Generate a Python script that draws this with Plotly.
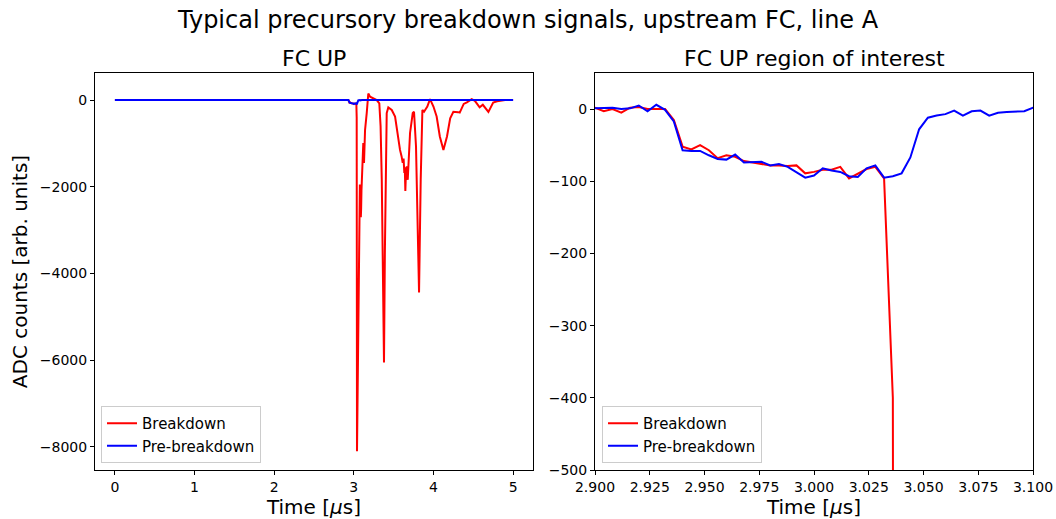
import plotly.graph_objects as go

# ---- quiet baseline before the event (both channels sit at ~0) ----
t_pre = [0.0, 0.25, 0.5, 0.75, 1.0, 1.25, 1.5, 1.75, 2.0, 2.25, 2.5, 2.75, 2.85, 2.896]
breakdown_pre = [0, 1, -1, 2, 0, -1, 1, 0, 2, -1, 0, 1, 0, 1]
prebreak_pre = [1, 0, 1, -1, 1, 0, 0, 1, -1, 2, 1, 0, 2, 1]

# ---- region of interest, 4 ns sampling ----
t_roi = [2.900, 2.904, 2.908, 2.912, 2.916, 2.920, 2.924, 2.928, 2.932, 2.936,
         2.940, 2.944, 2.948, 2.952, 2.956, 2.960, 2.964, 2.968, 2.972, 2.976,
         2.980, 2.984, 2.988, 2.992, 2.996, 3.000, 3.004, 3.008, 3.012, 3.016,
         3.020, 3.024, 3.028, 3.032, 3.036, 3.040, 3.044, 3.048, 3.052, 3.056,
         3.060, 3.064, 3.068, 3.072, 3.076, 3.080, 3.084, 3.088, 3.092, 3.096,
         3.100]
breakdown_roi = [2, -3, 0, -5, 2, 3, 0, 0, 0, -15,
                 -52, -56, -50, -57, -68, -64, -66, -72, -74, -76,
                 -78, -78, -79, -78, -89, -87, -84, -84, -80, -96,
                 -90, -83, -80, -96, -400, -8100, -7400, -6000, -5200, -4400,
                 -3700, -3000, -2600, -2200, -1950, -2000, -2400, -2700, -2500, -2100,
                 -1850]
prebreak_roi = [1, 1, 2, 0, 1, 5, -3, 6, -1, -17,
                -57, -58, -58, -64, -69, -70, -63, -74, -74, -73,
                -78, -76, -80, -87, -95, -92, -82, -85, -87, -93,
                -94, -82, -78, -95, -93, -89, -67, -28, -12, -9,
                -7, -2, -9, -3, -2, -9, -5, -4, -4, -3,
                2]

# ---- after the region of interest ----
t_post_bd = [3.110, 3.119, 3.128, 3.141, 3.162, 3.182, 3.204, 3.250, 3.288, 3.320,
             3.336, 3.351, 3.366, 3.379, 3.390, 3.401, 3.413, 3.433, 3.476, 3.518,
             3.546, 3.580, 3.600, 3.614, 3.625, 3.634, 3.640, 3.647, 3.655, 3.665,
             3.677, 3.690, 3.706, 3.740, 3.756, 3.781, 3.803, 3.819, 3.840, 3.861,
             3.882, 3.923, 3.957, 4.000, 4.040, 4.080, 4.125, 4.170, 4.210, 4.250,
             4.310, 4.330, 4.380, 4.420, 4.480, 4.520, 4.580, 4.620, 4.690, 4.750,
             4.800, 4.850, 4.900, 5.000]
breakdown_post = [-1700, -990, -1450, -690, -300, 150, 75, 30, 0, -75,
                  -600, -1840, -4000, -6050, -3500, -1070, -300, -170, -230, -380,
                  -760, -1150, -1300, -1450, -1350, -1680, -1550, -2100, -1650, -1530,
                  -1840, -1300, -760, -300, -270, -1070, -2990, -4440, -1840, -230,
                  -270, -150, 20, -150, -380, -840, -1150, -840, -420, -270,
                  -280, -290, -90, -55, 20, -20, -170, -110, -275, -60,
                  -30, -10, 0, 0]
t_post_pb = [3.2, 3.4, 3.6, 3.8, 4.0, 4.2, 4.4, 4.6, 4.8, 5.0]
prebreak_post = [1, -1, 0, 2, 1, 0, -1, 1, 0, 1]

t_breakdown = t_pre + t_roi + t_post_bd
v_breakdown = breakdown_pre + breakdown_roi + breakdown_post
t_prebreak = t_pre + t_roi + t_post_pb
v_prebreak = prebreak_pre + prebreak_roi + prebreak_post

RED = "#ff0000"
BLUE = "#0000ff"
FONT = "DejaVu Sans"

fig = go.Figure()
for xa, ya, leg in (("x", "y", "legend"), ("x2", "y2", "legend2")):
    fig.add_trace(go.Scatter(x=t_breakdown, y=v_breakdown, mode="lines", name="Breakdown",
                             line=dict(color=RED, width=2), xaxis=xa, yaxis=ya, legend=leg))
    fig.add_trace(go.Scatter(x=t_prebreak, y=v_prebreak, mode="lines", name="Pre-breakdown",
                             line=dict(color=BLUE, width=2), xaxis=xa, yaxis=ya, legend=leg))

axis_style = dict(showline=True, mirror=True, linecolor="black", linewidth=1,
                  ticks="outside", ticklen=4, tickwidth=1, tickcolor="black",
                  showgrid=False, zeroline=False, automargin=False,
                  tickfont=dict(family=FONT, size=14, color="black"))

W, H = 1056, 519
x1d = [95 / W, 533 / W]
x2d = [595 / W, 1033 / W]
yd = [(H - 470) / H, (H - 73) / H]

legend_style = dict(xanchor="left", yanchor="bottom", y=(H - 463) / H,
                    bordercolor="#cccccc", borderwidth=1, bgcolor="rgba(255,255,255,0.8)",
                    font=dict(family=FONT, size=15), tracegroupgap=0, itemwidth=30)

fig.update_layout(
    width=W, height=H,
    margin=dict(l=0, r=0, t=0, b=0, autoexpand=False),
    paper_bgcolor="white", plot_bgcolor="white",
    font=dict(family=FONT, color="black"),
    xaxis=dict(domain=x1d, range=[-0.25, 5.25], dtick=1, tick0=0, anchor="y",
               title=dict(text="Time [<i>μ</i>s]", font=dict(size=20), standoff=4), **axis_style),
    yaxis=dict(domain=yd, range=[-8531, 623], dtick=2000, tick0=0, anchor="x",
               title=dict(text="ADC counts [arb. units]", font=dict(size=20), standoff=6), **axis_style),
    xaxis2=dict(domain=x2d, range=[2.9, 3.1], dtick=0.025, tick0=2.9, tickformat=".3f", anchor="y2",
                title=dict(text="Time [<i>μ</i>s]", font=dict(size=20), standoff=4), **axis_style),
    yaxis2=dict(domain=yd, range=[-500, 50], dtick=100, tick0=0, anchor="x2", **axis_style),
    legend=dict(x=101 / W, **legend_style),
    legend2=dict(x=602 / W, **legend_style),
    annotations=[
        dict(text="Typical precursory breakdown signals, upstream FC, line A", x=0.5, y=1 - 20 / H,
             xref="paper", yref="paper", showarrow=False, font=dict(size=24), xanchor="center", yanchor="middle"),
        dict(text="FC UP", x=(x1d[0] + x1d[1]) / 2, y=1 - 58 / H, xref="paper", yref="paper",
             showarrow=False, font=dict(size=22), xanchor="center", yanchor="middle"),
        dict(text="FC UP region of interest", x=(x2d[0] + x2d[1]) / 2, y=1 - 58 / H, xref="paper", yref="paper",
             showarrow=False, font=dict(size=22), xanchor="center", yanchor="middle"),
    ],
)

fig.write_html("out.html")
